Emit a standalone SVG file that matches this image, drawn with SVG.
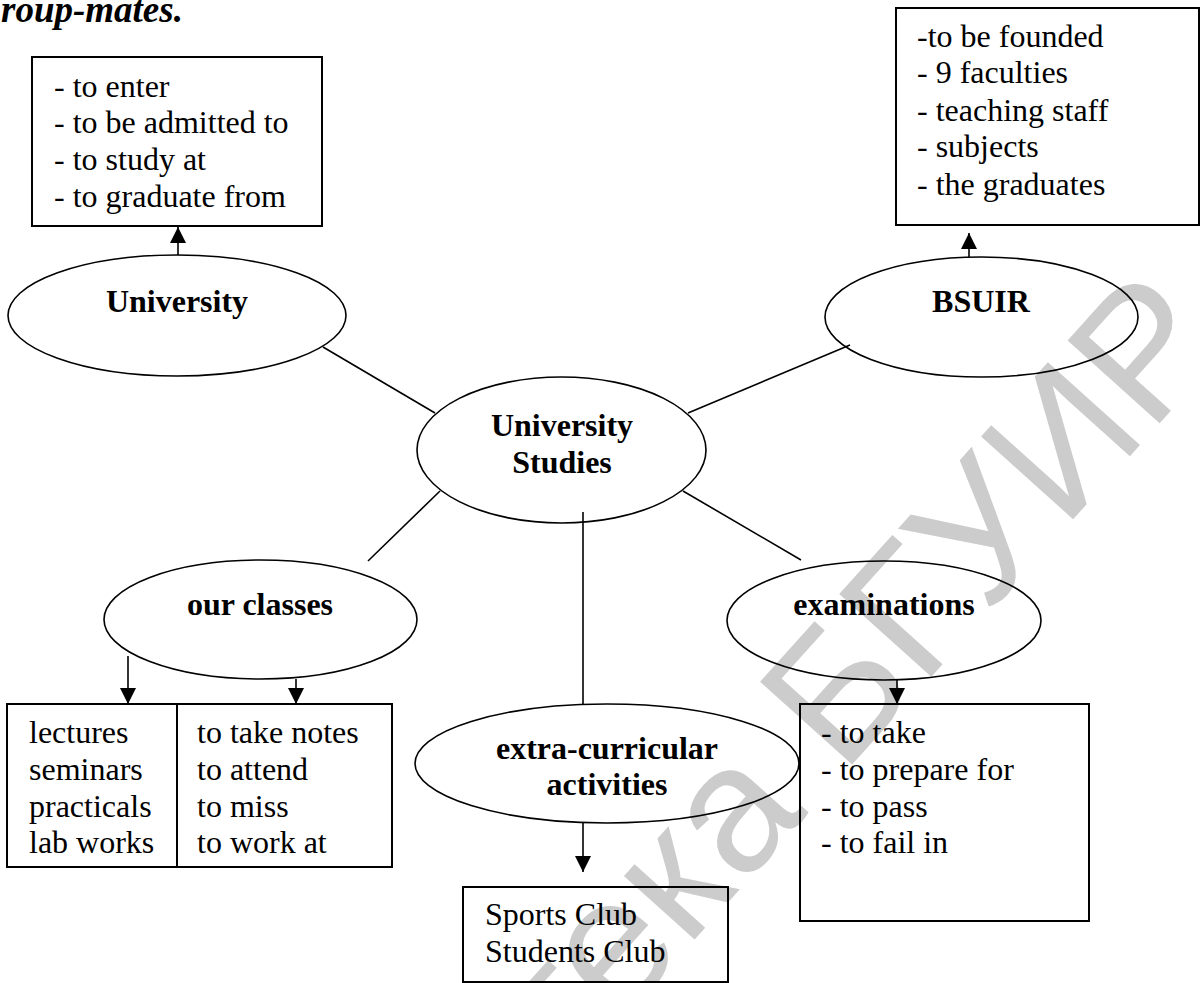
<svg xmlns="http://www.w3.org/2000/svg" width="1200" height="983" viewBox="0 0 1200 983">
<style>
  .box { fill: none; stroke: #000; stroke-width: 2; }
  .ell { fill: none; stroke: #000; stroke-width: 1.6; }
  .ln { stroke: #000; stroke-width: 1.6; fill: none; }
  .t { font-family: "Liberation Serif", "Times New Roman", serif; font-size: 32px; fill: #000; }
  .b { font-family: "Liberation Serif", "Times New Roman", serif; font-size: 32px; font-weight: bold; fill: #000; text-anchor: middle; }
  .h { font-family: "Liberation Serif", "Times New Roman", serif; font-size: 37px; font-weight: bold; font-style: italic; fill: #000; }
  .wm { font-family: "Liberation Sans", Arial, sans-serif; font-size: 180px; fill: #cccccc; }
</style>
<defs>
  <marker id="arr" markerWidth="16" markerHeight="16" viewBox="0 0 16 16" refX="16" refY="8" orient="auto" markerUnits="userSpaceOnUse">
    <path d="M0,0 L16,8 L0,16 Z" fill="#000"/>
  </marker>
</defs>
<rect width="1200" height="983" fill="#fff"/>
<text class="wm" transform="translate(154,1540) rotate(-48)">Библиотека БГУИР</text>

<text class="h" x="1" y="22">roup-mates.</text>

<g id="connectors">
  <line class="ln" x1="178" y1="255" x2="178" y2="227" marker-end="url(#arr)"/>
  <line class="ln" x1="969" y1="257" x2="969" y2="233" marker-end="url(#arr)"/>
  <line class="ln" x1="323" y1="347" x2="435" y2="413"/>
  <line class="ln" x1="688" y1="413" x2="850" y2="345"/>
  <line class="ln" x1="440" y1="491" x2="368" y2="561"/>
  <line class="ln" x1="683" y1="491" x2="801" y2="560"/>
  <line class="ln" x1="583" y1="512" x2="583" y2="705"/>
  <line class="ln" x1="128" y1="656" x2="128" y2="704" marker-end="url(#arr)"/>
  <line class="ln" x1="296" y1="679" x2="296" y2="704" marker-end="url(#arr)"/>
  <line class="ln" x1="897" y1="680" x2="897" y2="704" marker-end="url(#arr)"/>
  <line class="ln" x1="583" y1="823" x2="583" y2="872" marker-end="url(#arr)"/>
</g>

<g id="university-box">
  <rect class="box" x="32" y="57" width="290" height="169"/>
  <text class="t" x="54" y="97">- to enter</text>
  <text class="t" x="54" y="133">- to be admitted to</text>
  <text class="t" x="54" y="170">- to study at</text>
  <text class="t" x="54" y="207">- to graduate from</text>
</g>

<g id="bsuir-box">
  <rect class="box" x="896" y="8" width="303" height="217"/>
  <text class="t" x="917" y="47">-to be founded</text>
  <text class="t" x="917" y="83">- 9 faculties</text>
  <text class="t" x="917" y="121">- teaching staff</text>
  <text class="t" x="917" y="157">- subjects</text>
  <text class="t" x="917" y="195">- the graduates</text>
</g>

<g id="university">
  <ellipse class="ell" cx="177" cy="315.5" rx="169" ry="60.5"/>
  <text class="b" x="177" y="312">University</text>
</g>

<g id="bsuir">
  <ellipse class="ell" cx="981.5" cy="317" rx="156.5" ry="60"/>
  <text class="b" x="981" y="312">BSUIR</text>
</g>

<g id="university-studies">
  <ellipse class="ell" cx="561.5" cy="450" rx="144.5" ry="73"/>
  <text class="b" x="562" y="436">University</text>
  <text class="b" x="562" y="473">Studies</text>
</g>

<g id="our-classes">
  <ellipse class="ell" cx="260.5" cy="619.5" rx="156.5" ry="59.5"/>
  <text class="b" x="260" y="615">our classes</text>
</g>

<g id="examinations">
  <ellipse class="ell" cx="884" cy="620.5" rx="157" ry="59.5"/>
  <text class="b" x="884" y="615">examinations</text>
</g>

<g id="extra-curricular">
  <ellipse class="ell" cx="607" cy="763.5" rx="192" ry="59.5"/>
  <text class="b" x="607" y="759">extra-curricular</text>
  <text class="b" x="607" y="795">activities</text>
</g>

<g id="classes-box">
  <rect class="box" x="7" y="704" width="385" height="163"/>
  <line class="box" x1="177" y1="704" x2="177" y2="867"/>
  <text class="t" x="29" y="743">lectures</text>
  <text class="t" x="29" y="780">seminars</text>
  <text class="t" x="29" y="817">practicals</text>
  <text class="t" x="29" y="853">lab works</text>
  <text class="t" x="197" y="743">to take notes</text>
  <text class="t" x="197" y="780">to attend</text>
  <text class="t" x="197" y="817">to miss</text>
  <text class="t" x="197" y="853">to work at</text>
</g>

<g id="exam-box">
  <rect class="box" x="800" y="704" width="289" height="217"/>
  <text class="t" x="821" y="743">- to take</text>
  <text class="t" x="821" y="780">- to prepare for</text>
  <text class="t" x="821" y="817">- to pass</text>
  <text class="t" x="821" y="853">- to fail in</text>
</g>

<g id="clubs-box">
  <rect class="box" x="463" y="887" width="265" height="95"/>
  <text class="t" x="485" y="925">Sports Club</text>
  <text class="t" x="485" y="962">Students Club</text>
</g>
</svg>
